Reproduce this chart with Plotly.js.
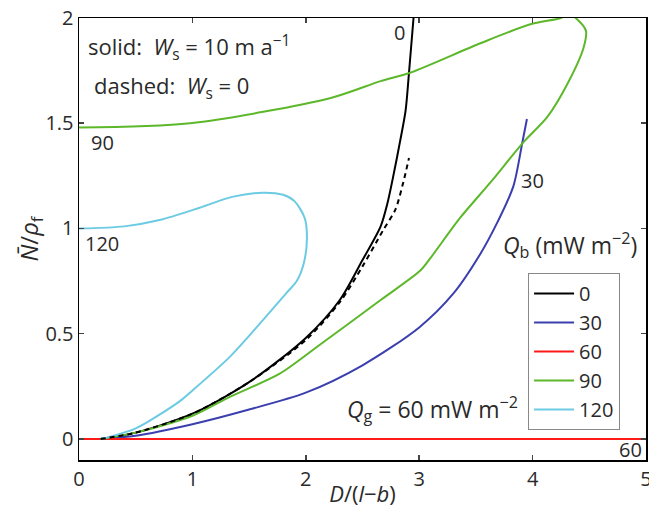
<!DOCTYPE html>
<html>
<head>
<meta charset="utf-8">
<script src="https://cdn.plot.ly/plotly-3.0.1.min.js"></script>
<style>html,body{margin:0;padding:0;background:#fff}#plot{width:649px;height:508px}</style>
</head>
<body>
<div id="plot"></div>
<script>
// Qb = 0, solid (Ws = 10 m/a)
const q0x = [0.19, 0.5, 1.0, 1.5, 2.0, 2.3, 2.5, 2.66, 2.72, 2.77, 2.83, 2.88, 2.91, 2.95];
const q0y = [0.0, 0.03, 0.12, 0.27, 0.48, 0.66, 0.85, 1.01, 1.12, 1.245, 1.41, 1.56, 1.74, 2.0];
// Qb = 0, dashed (Ws = 0)
const q0dx = [0.19, 0.5, 1.0, 1.5, 2.0, 2.3, 2.5, 2.68, 2.79, 2.86, 2.91];
const q0dy = [0.0, 0.03, 0.12, 0.27, 0.47, 0.65, 0.82, 0.99, 1.09, 1.22, 1.335];
// Qb = 30
const q30x = [0.19, 0.5, 1.0, 1.5, 2.0, 2.5, 3.0, 3.3, 3.54, 3.69, 3.83, 3.91, 3.95];
const q30y = [0.0, 0.015, 0.07, 0.14, 0.22, 0.35, 0.53, 0.69, 0.88, 1.03, 1.2, 1.41, 1.52];
// Qb = 60
const q60x = [0, 5];
const q60y = [0, 0];
// Qb = 90
const q90x = [0.19, 0.5, 1.0, 1.33, 1.77, 2.13, 2.66, 3.01, 3.10, 3.36, 3.63, 3.92, 4.13, 4.31, 4.45, 4.47, 4.38, 4.32, 4.25, 3.98, 3.54, 2.92, 2.66, 2.22, 0.98, 0.0];
const q90y = [0.0, 0.03, 0.11, 0.2, 0.31, 0.45, 0.66, 0.80, 0.86, 1.05, 1.22, 1.41, 1.53, 1.69, 1.86, 1.94, 2.0, 2.02, 2.0, 1.97, 1.88, 1.74, 1.70, 1.62, 1.5, 1.48];
// Qb = 120
const q120x = [0.19, 0.27, 0.5, 0.89, 1.0, 1.33, 1.5, 1.84, 1.92, 1.98, 2.01, 1.99, 1.9, 1.8, 1.62, 1.35, 1.07, 0.71, 0.4, 0.0];
const q120y = [0.0, 0.01, 0.05, 0.18, 0.23, 0.39, 0.49, 0.70, 0.75, 0.83, 0.95, 1.05, 1.13, 1.16, 1.17, 1.15, 1.10, 1.04, 1.01, 1.0];

const names = ['0', '30', '60', '90', '120'];
const colors = ['#000000', '#3b3fae', '#ff1a1a', '#5cb82a', '#6ccbe2'];

const xTicks = [0, 1, 2, 3, 4, 5];
const yTicks = [0, 0.5, 1, 1.5, 2];
const yTickText = ['0', '0.5', '1', '1.5', '2'];

const F = '"Open Sans", "DejaVu Sans", sans-serif';
const TC = '#2a2a2a';
const lw = 2;
const sp = {shape: 'spline', smoothing: 0.8};

const traces = [
  {x: q0x, y: q0y, name: names[0], mode: 'lines', line: Object.assign({color: colors[0], width: lw}, sp)},
  {x: q30x, y: q30y, name: names[1], mode: 'lines', line: Object.assign({color: colors[1], width: lw}, sp)},
  {x: q60x, y: q60y, name: names[2], mode: 'lines', line: {color: colors[2], width: lw}},
  {x: q90x, y: q90y, name: names[3], mode: 'lines', line: Object.assign({color: colors[3], width: lw}, sp)},
  {x: q120x, y: q120y, name: names[4], mode: 'lines', line: Object.assign({color: colors[4], width: lw}, sp)},
  {x: q0dx, y: q0dy, name: 'dashed', showlegend: false, mode: 'lines', line: Object.assign({color: colors[0], width: lw, dash: '5px,4px'}, sp)}
];

const ann = (x, y, text, size, xanchor) => ({x, y, xref: 'x', yref: 'y', text, showarrow: false,
  font: {family: F, size: size || 22, color: TC}, xanchor: xanchor || 'center', yanchor: 'middle'});

const layout = {
  width: 649, height: 508,
  margin: {l: 79, r: 3, t: 18, b: 48},
  paper_bgcolor: '#fff', plot_bgcolor: '#fff',
  font: {family: F, size: 20, color: TC},
  showlegend: true,
  legend: {x: 0.792, y: 0.423, xanchor: 'left', yanchor: 'top', bgcolor: '#fff',
    bordercolor: '#888', borderwidth: 1, font: {family: F, size: 20, color: TC},
    itemwidth: 40, tracegroupgap: 0},
  xaxis: {range: [0, 5], tickvals: xTicks, ticks: 'inside', ticklen: 5, tickwidth: 1.5,
    showline: true, linecolor: '#000', linewidth: 1.5, mirror: 'ticks', showgrid: false, zeroline: false,
    ticklabeloverflow: 'allow',
    tickfont: {family: F, size: 20, color: TC},
    title: {text: '<i>D</i>/(<i>l</i>−<i>b</i>)', font: {family: F, size: 22, color: TC}, standoff: 4}},
  yaxis: {range: [-0.1, 2], tickvals: yTicks, ticktext: yTickText, ticks: 'inside', ticklen: 5, tickwidth: 1.5,
    showline: true, linecolor: '#000', linewidth: 1.5, mirror: 'ticks', showgrid: false, zeroline: false,
    tickfont: {family: F, size: 20, color: TC},
    title: {text: '<i>N̄</i>/<i>ρ</i><sub>f</sub>', font: {family: F, size: 24, color: TC}, standoff: 0}},
  annotations: [
    ann(0.06, 1.86, 'solid:  <i>W</i><sub>s</sub> = 10 m a<sup>−1</sup>', 22, 'left'),
    ann(0.115, 1.67, 'dashed:  <i>W</i><sub>s</sub> = 0', 22, 'left'),
    ann(3.72, 0.92, '<i>Q</i><sub>b</sub> (mW m<sup>−2</sup>)', 23, 'left'),
    ann(2.35, 0.14, '<i>Q</i><sub>g</sub> = 60 mW m<sup>−2</sup>', 23, 'left'),
    ann(2.83, 1.93, '0', 20),
    ann(0.21, 1.41, '90', 20),
    ann(0.2, 0.93, '120', 20),
    ann(4.0, 1.23, '30', 20),
    ann(4.86, -0.05, '60', 20)
  ]
};

Plotly.newPlot('plot', traces, layout, {staticPlot: true, displayModeBar: false});
</script>
</body>
</html>
